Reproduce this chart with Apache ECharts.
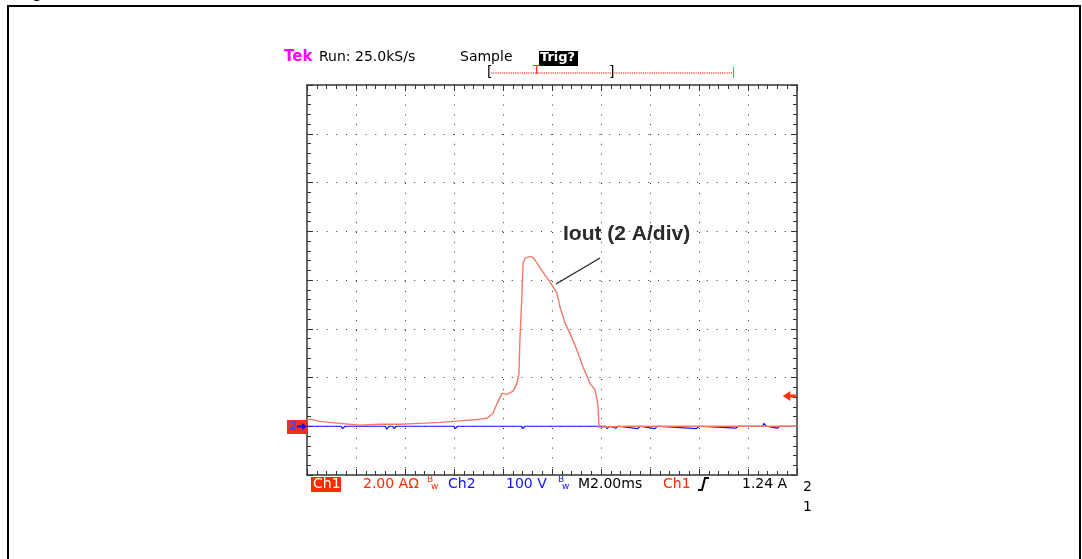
<!DOCTYPE html>
<html>
<head>
<meta charset="utf-8">
<script src="https://cdn.jsdelivr.net/npm/echarts@6/dist/echarts.min.js"></script>
<style>
html,body{margin:0;padding:0;background:#fff;}
#chart{width:1082px;height:559px;}
</style>
</head>
<body>
<div id="chart"></div>
<script>
// Ch1 current (A), 2 A/div; time (ms), 2 ms/div
const ch1Time = [0, 0.12, 0.53, 0.94, 1.35, 2.16, 2.98, 3.80, 4.61, 5.43, 6.24, 7.06, 7.35, 7.59, 7.76, 7.96, 8.16, 8.41, 8.57, 8.65, 8.69, 8.78, 8.82, 8.90, 9.10, 9.22, 9.39, 9.63, 9.92, 10.20, 10.33, 10.53, 10.73, 11.02, 11.27, 11.55, 11.76, 11.84, 11.88, 11.92, 11.96, 13, 14, 15, 16, 17, 18, 19, 20];
const ch1Amp  = [0.29, 0.29, 0.2, 0.16, 0.12, 0.04, 0.08, 0.08, 0.12, 0.16, 0.22, 0.29, 0.33, 0.53, 0.94, 1.35, 1.31, 1.44, 1.76, 2.17, 3.53, 5.58, 6.69, 6.89, 6.97, 6.93, 6.69, 6.32, 5.91, 5.46, 4.88, 4.23, 3.82, 3.12, 2.42, 1.76, 1.48, 1.07, 0.78, -0.04, 0, 0, 0, 0, 0, 0, 0, 0, 0];
// Ch2 voltage (V), 100 V/div
const ch2Time = [0, 1.4, 1.45, 1.55, 2.3, 2.35, 2.45, 3.2, 3.25, 3.35, 3.5, 3.55, 3.65, 6.0, 6.05, 6.15, 6.2, 6.3, 8.3, 8.35, 8.45, 8.75, 8.8, 8.9, 9.3, 9.35, 9.45, 12.2, 12.25, 12.35, 12.6, 12.7, 13.5, 13.6, 14.2, 14.3, 15.9, 16.0, 17.5, 17.6, 18.6, 18.65, 18.75, 19.2, 19.3, 20];
const ch2Volt = [0, 0, -5, 0, 0, -4, 0, 0, -6, 0, 0, -5, 0, 0, -5, 0, -4, 0, 0, -4, 0, 0, -5, 0, 0, -4, 0, 0, -5, 0, -4, 0, -5, 0, -5, 0, -5, 0, -4, 0, 0, 6, 0, -4, 0, 0];
const triggerLevelA = 1.24;

const ch1Data = ch1Time.map((t, i) => [t, ch1Amp[i]]);
const ch2Data = ch2Time.map((t, i) => [t, ch2Volt[i]]);

const frameColor = '#666';
const dotColor = '#333';
const F = '"DejaVu Sans", sans-serif';

function txt(text, x, y, fill, size, extra) {
  return Object.assign({
    type: 'text', x: x, y: y, silent: true,
    style: { text: text, fill: fill, font: (extra && extra.bold ? 'bold ' : '') + size + 'px ' + F, verticalAlign: 'middle', align: 'left' }
  }, extra && extra.z ? { z: extra.z } : {});
}

const chart = echarts.init(document.getElementById('chart'), null, { renderer: 'canvas' });

function axisStyle() {
  return {
    axisLine: { show: true, onZero: false, lineStyle: { color: frameColor, width: 2 } },
    axisTick: { show: true, inside: true, length: 6, lineStyle: { color: dotColor, width: 1 } },
    minorTick: { show: true, splitNumber: 5, length: 4, lineStyle: { color: dotColor, width: 1 } },
    axisLabel: { show: false }
  };
}

const option = {
  animation: false,
  backgroundColor: '#fff',
  grid: { left: 307, top: 85, width: 490, height: 390, containLabel: false },
  xAxis: [
    Object.assign({ type: 'value', min: 0, max: 20, interval: 2, position: 'bottom',
      splitLine: { show: true, lineStyle: { color: dotColor, width: 1, type: [1, 8.8] } } }, axisStyle()),
    Object.assign({ type: 'value', min: 0, max: 20, interval: 2, position: 'top',
      splitLine: { show: false } }, axisStyle())
  ],
  yAxis: [
    Object.assign({ type: 'value', min: -2, max: 14, interval: 2, position: 'left',
      splitLine: { show: true, lineStyle: { color: dotColor, width: 1, type: [1, 8.75] } } }, axisStyle()),
    Object.assign({ type: 'value', min: -100, max: 700, interval: 100, position: 'right',
      splitLine: { show: false } }, axisStyle())
  ],
  series: [
    { type: 'line', name: 'Ch2', xAxisIndex: 0, yAxisIndex: 1, data: ch2Data, showSymbol: false, z: 3,
      lineStyle: { color: '#1010ff', width: 1.2 } },
    { type: 'line', name: 'Ch1', xAxisIndex: 0, yAxisIndex: 0, data: ch1Data, showSymbol: false, z: 4,
      lineStyle: { color: '#f4786a', width: 1.4 },
      markPoint: {
        symbol: 'path://M0,5 L8,0 L8,3.5 L14,3.5 L14,6.5 L8,6.5 L8,10 Z', symbolSize: [13, 10],
        symbolKeepAspect: false, itemStyle: { color: '#ff3010' }, label: { show: false },
        data: [{ coord: [19.85, triggerLevelA], symbolOffset: [-4, 0] }]
      }
    }
  ],
  graphic: [
    // outer frame
    { type: 'rect', shape: { x: 8, y: 6, width: 1072, height: 600 }, style: { fill: null, stroke: '#000', lineWidth: 2 }, silent: true },
    // cut caption
    { type: 'text', x: 18, y: -14, style: { text: 'Figure', fill: '#000', font: 'bold 16px "Liberation Sans", Arial, sans-serif' }, silent: true },
    // header
    txt('Tek', 284, 57, '#ff00ff', 15, { bold: true }),
    txt('Run: 25.0kS/s', 319, 57, '#000', 14),
    txt('Sample', 460, 57, '#000', 14),
    { type: 'rect', shape: { x: 539, y: 51, width: 39, height: 15 }, style: { fill: '#000' }, silent: true },
    txt('Trig?', 540, 58, '#fff', 13, { bold: true, z: 10 }),
    // record bar
    { type: 'line', shape: { x1: 491, y1: 73, x2: 733, y2: 73 }, style: { stroke: '#f05a4a', lineWidth: 1.6, lineDash: [1.2, 1] }, silent: true },
    txt('[', 487, 72, '#000', 14),
    txt(']', 609, 72, '#000', 14),
    txt('T', 533, 71, '#ff3010', 12),
    { type: 'line', shape: { x1: 733.5, y1: 67, x2: 733.5, y2: 78 }, style: { stroke: '#f06050', lineWidth: 1 }, silent: true },
    // bottom status line
    { type: 'rect', shape: { x: 311, y: 477, width: 30, height: 15 }, style: { fill: '#ff2a00' }, silent: true },
    txt('Ch1', 313, 484, '#fff', 14, { z: 10 }),
    txt('2.00 AΩ', 363, 484, '#ff2a00', 14),
    txt('B', 427, 480, '#ff2a00', 9),
    txt('w', 431, 487, '#ff2a00', 9),
    txt('Ch2', 448, 484, '#1010ff', 14),
    txt('100 V', 506, 484, '#1010ff', 14),
    txt('B', 558, 480, '#1010ff', 9),
    txt('w', 562, 487, '#1010ff', 9),
    txt('M2.00ms', 578, 484, '#000', 14),
    txt('Ch1', 663, 484, '#ff2a00', 14),
    { type: 'polyline', shape: { points: [[698, 490], [702, 490], [705, 478], [709, 478]] }, style: { stroke: '#000', lineWidth: 2, fill: null }, silent: true },
    txt('1.24 A', 742, 484, '#000', 14),
    txt('2', 803, 487, '#000', 14),
    txt('1', 803, 507, '#000', 14),
    // left ground marker
    { type: 'rect', shape: { x: 287, y: 420, width: 20, height: 14 }, style: { fill: '#f03020' }, silent: true, z: 20 },
    txt('2', 289, 427, '#3050ff', 12, { bold: true, z: 21 }),
    { type: 'line', shape: { x1: 297, y1: 426.5, x2: 306, y2: 426.5 }, style: { stroke: '#1010ff', lineWidth: 2 }, silent: true, z: 21 },
    { type: 'polygon', shape: { points: [[302, 423], [307, 426.5], [302, 430]] }, style: { fill: '#1010ff' }, silent: true, z: 21 },
    // annotation
    { type: 'text', x: 563, y: 234, style: { text: 'Iout (2 A/div)', fill: '#2a2a2a', font: 'bold 21px "Liberation Sans", Arial, sans-serif', verticalAlign: 'middle' }, silent: true, z: 10 },
    { type: 'line', shape: { x1: 600, y1: 258, x2: 556, y2: 284 }, style: { stroke: '#222', lineWidth: 1.2 }, silent: true, z: 10 }
  ]
};
chart.setOption(option);
</script>
</body>
</html>
